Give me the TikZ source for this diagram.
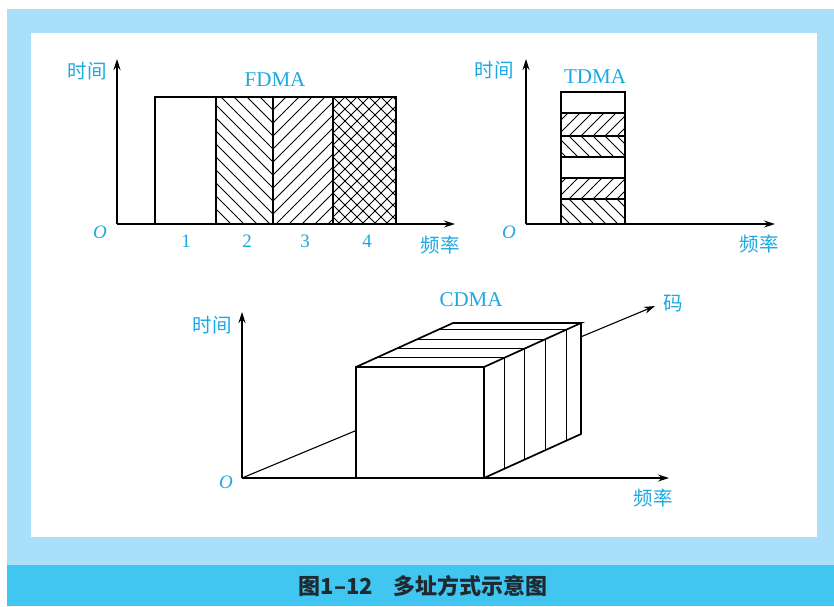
\documentclass[tikz,border=0pt]{standalone}
\usepackage{fontspec}
\setmainfont{Liberation Serif}
\newfontfamily\cjk{Noto Sans CJK SC}
\usetikzlibrary{arrows.meta}
\definecolor{lblue}{HTML}{A9DFF9}
\definecolor{dblue}{HTML}{41C6F2}
\definecolor{txtc}{HTML}{1CA9E2}
\definecolor{capc}{HTML}{1F2A30}
\begin{document}
\begin{tikzpicture}[x=1pt,y=-1pt,
  axis/.style={line width=1.1pt,-{Stealth[length=11pt,width=7pt]}},
  boxline/.style={line width=1.7pt},
  hatch/.style={line width=0.8pt},
  cjklbl/.style={text=txtc,font=\cjk\fontsize{19.5}{19.5}\selectfont,inner sep=0pt},
  latlbl/.style={text=txtc,font=\fontsize{21}{21}\selectfont,inner sep=0pt},
  numlbl/.style={text=txtc,font=\fontsize{19}{19}\selectfont,inner sep=0pt},
  caplbl/.style={text=capc,font=\cjk\bfseries\fontsize{22}{22}\selectfont,inner sep=0pt}
]
\useasboundingbox (0,0) rectangle (834,606);
\fill[white] (0,0) rectangle (834,606);
\fill[lblue] (7,9) rectangle (834,565);
\fill[white] (31,33) rectangle (817,537);
\fill[dblue] (7,565) rectangle (834,606);
\node[caplbl] (cap) at (423,586) {图1–12\hspace{20pt}多址方式示意图};

% ---------------- FDMA ----------------
\coordinate (fO) at (117,224);
\coordinate (fY) at (117,59);
\coordinate (fX) at (455,224);
\begin{scope}
  \clip (216,97) rectangle (273,224);
  \foreach \k in {-2,...,18} \draw[hatch] (123,97+13*\k-150) -- (273,97+13*\k);
\end{scope}
\begin{scope}
  \clip (273,97) rectangle (333,224);
  \foreach \k in {-2,...,18} \draw[hatch] (273,97+13*\k) -- (423,97+13*\k-150);
\end{scope}
\begin{scope}
  \clip (333,97) rectangle (396,224);
  \foreach \k in {-8,...,20} {
    \draw[hatch] (333,97+12*\k) -- (483,97+12*\k+150);
    \draw[hatch] (333,97+12*\k) -- (483,97+12*\k-150);
  }
\end{scope}
\draw[boxline] (155,224) -- (155,97) -- (396,97) -- (396,224);
\draw[boxline] (216,97) -- (216,224) (273,97) -- (273,224) (333,97) -- (333,224);
\draw[axis] (fO) -- (fY);
\draw[axis] (fO) -- (fX);
\node[cjklbl] (ft) at (87,71) {时间};
\node[latlbl] (fname) at (275,80) {FDMA};
\node[numlbl,font=\itshape\fontsize{19}{19}\selectfont] (fo) at (100,232) {O};
\node[numlbl] (f1) at (186,241) {1};
\node[numlbl] (f2) at (247,241) {2};
\node[numlbl] (f3) at (305,241) {3};
\node[numlbl] (f4) at (367,241) {4};
\node[cjklbl] (ff) at (440,245) {频率};

% ---------------- TDMA ----------------
\coordinate (tO) at (526,224);
\coordinate (tY) at (526,59);
\coordinate (tX) at (775,224);
\begin{scope}
  \clip (561,113) rectangle (625,136);
  \foreach \k in {-4,...,8} \draw[hatch] (557+12*\k,136) -- (587+12*\k,106);
\end{scope}
\begin{scope}
  \clip (561,136) rectangle (625,157);
  \foreach \k in {-4,...,8} \draw[hatch] (557+12*\k,136) -- (587+12*\k,166);
\end{scope}
\begin{scope}
  \clip (561,178) rectangle (625,199);
  \foreach \k in {-4,...,8} \draw[hatch] (557+12*\k,199) -- (587+12*\k,169);
\end{scope}
\begin{scope}
  \clip (561,199) rectangle (625,224);
  \foreach \k in {-4,...,8} \draw[hatch] (557+12*\k,199) -- (587+12*\k,229);
\end{scope}
\draw[boxline] (561,224) -- (561,92) -- (625,92) -- (625,224);
\draw[line width=1.2pt] (561,113) -- (625,113) (561,136) -- (625,136) (561,157) -- (625,157)
  (561,178) -- (625,178) (561,199) -- (625,199);
\draw[axis] (tO) -- (tY);
\draw[axis] (tO) -- (tX);
\node[cjklbl] (tt) at (494,70) {时间};
\node[latlbl] (tname) at (595,77) {TDMA};
\node[numlbl,font=\itshape\fontsize{19}{19}\selectfont] (to) at (509,232) {O};
\node[cjklbl] (tf) at (759,244) {频率};

% ---------------- CDMA ----------------
\coordinate (cO) at (242,478);
\coordinate (cY) at (242,312);
\coordinate (cX) at (669,478);
\coordinate (cZ) at (655,306);
\draw[axis] (cO) -- (cZ);
\fill[white] (356,478) -- (356,367) -- (453,323) -- (581,323) -- (581,434) -- (484,478) -- cycle;
\foreach \f in {0.21,0.42,0.63,0.85} {
  \draw[line width=1.1pt] (356+97*\f,367-44*\f) -- (484+97*\f,367-44*\f);
  \draw[line width=1.1pt] (484+97*\f,367-44*\f) -- (484+97*\f,478-44*\f);
}
\draw[boxline] (356,367) rectangle (484,478);
\draw[boxline,line join=miter] (356,367) -- (453,323) -- (581,323) -- (484,367);
\draw[boxline,line join=miter] (581,323) -- (581,434) -- (484,478);
\draw[axis] (cO) -- (cY);
\draw[axis] (cO) -- (cX);
\node[cjklbl] (ct) at (212,325) {时间};
\node[latlbl] (cname) at (471,300) {CDMA};
\node[cjklbl] (cz) at (673,304) {码};
\node[numlbl,font=\itshape\fontsize{19}{19}\selectfont] (co) at (226,482) {O};
\node[cjklbl] (cf) at (653,498) {频率};
\end{tikzpicture}
\end{document}
